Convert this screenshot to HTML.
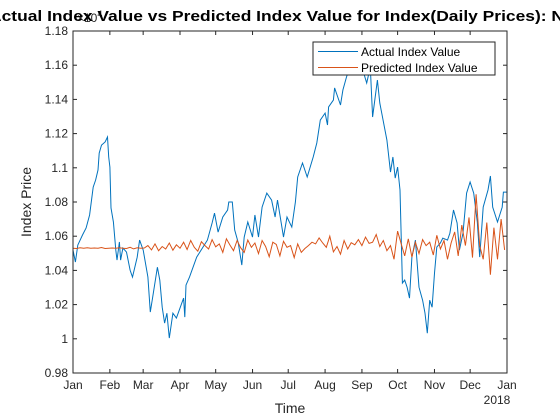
<!DOCTYPE html>
<html><head><meta charset="utf-8"><style>
body{margin:0;background:#fff}
svg{display:block;font-family:"Liberation Sans",sans-serif}
</style></head><body>
<svg id="chart" width="560" height="420" viewBox="0 0 560 420"></svg>
<script>
const monthLabels=["Jan","Feb","Mar","Apr","May","Jun","Jul","Aug","Sep","Oct","Nov","Dec","Jan"];
const monthDays=[0,31,59,90,120,151,181,212,243,273,304,334,365];
const yTicks=[0.98,1,1.02,1.04,1.06,1.08,1.1,1.12,1.14,1.16,1.18];
const yTickLabels=["0.98","1","1.02","1.04","1.06","1.08","1.1","1.12","1.14","1.16","1.18"];
const actualDays=[0,2,4,8,11,14,17,19,21,22,24,27,29,30,31,32,34,36,37,39,40,42,45,48,50,54,56,59,63,65,67,71,73,75,77,79,81,84,87,93,94,95,98,104,113,117,119,122,126,130,131,134,136,139,142,144,147,151,153,156,159,163,167,170,172,177,180,184,187,189,193,197,202,205,208,212,214,215,219,220,225,227,230,235,239,243,247,250,252,256,258,264,267,269,271,273,275,277,279,281,283,285,288,291,294,296,298,300,302,304,306,309,311,315,317,320,323,325,328,331,334,337,340,342,345,349,351,353,357,361,362,365];
const actualValues=[1.0519,1.0449,1.0548,1.0607,1.0648,1.0724,1.0887,1.0928,1.0987,1.1086,1.1133,1.1151,1.118,1.1063,1.1004,1.0765,1.0683,1.0519,1.046,1.0566,1.046,1.0531,1.0507,1.0402,1.0361,1.0478,1.0577,1.0519,1.0361,1.0156,1.0244,1.0419,1.0343,1.0185,1.0092,1.015,1.0004,1.015,1.0121,1.0238,1.0127,1.0314,1.0361,1.0478,1.0577,1.0677,1.0735,1.0624,1.0712,1.0753,1.08,1.08,1.0636,1.056,1.0431,1.0595,1.0683,1.0595,1.0724,1.0595,1.077,1.0852,1.0811,1.0712,1.0811,1.0595,1.0712,1.0653,1.08,1.0946,1.1028,1.0946,1.1063,1.1145,1.1279,1.132,1.125,1.1356,1.1396,1.1467,1.1367,1.1455,1.1531,1.163,1.173,1.1589,1.1496,1.1589,1.1297,1.1513,1.1379,1.1162,1.0975,1.1063,1.094,1.1004,1.087,1.0326,1.0343,1.0302,1.0238,1.0478,1.0577,1.0302,1.0226,1.015,1.0033,1.0226,1.0185,1.0384,1.0536,1.056,1.0589,1.0577,1.0618,1.0753,1.0677,1.0519,1.0618,1.0852,1.0917,1.0852,1.0683,1.0478,1.077,1.087,1.0952,1.077,1.0683,1.077,1.0858,1.0858];
const predictedValues=[1.053,1.0528,1.0532,1.053,1.0533,1.0529,1.0531,1.053,1.0534,1.0528,1.053,1.0531,1.0529,1.0533,1.053,1.0528,1.0535,1.0526,1.0532,1.0529,1.0531,
1.0545,1.052,1.0555,1.0515,1.054,1.0525,1.056,1.0518,1.055,1.053,
1.0565,1.0522,1.0575,1.0535,1.0512,1.0568,1.0545,1.0525,1.058,1.0538,1.0555,1.0505,1.0585,1.0548,1.0515,1.0575,1.0532,1.0505,1.0578,1.0535,
1.056,1.0498,1.0575,1.054,1.048,1.0565,1.0552,1.0485,1.057,1.0535,1.0545,1.0475,1.0555,1.0505,1.0528,1.0545,1.0565,1.0555,1.059,1.056,1.0535,1.06,1.0508,1.054,1.0495,1.0575,1.0525,1.0562,1.055,1.058,1.0545,1.0595,1.0558,1.0565,1.061,1.054,1.0575,1.0515,1.0545,1.0465,
1.063,1.0555,1.0485,1.0585,1.0478,1.0565,1.0498,1.058,1.0545,1.0565,
1.049,1.0605,1.0525,1.0575,1.0465,1.056,1.0625,1.0485,1.0665,1.0545,1.071,1.0475,1.0845,1.0545,1.0465,1.068,1.0375,1.065,1.0465,1.07,1.052];
const predictedStep=3;

const NS="http://www.w3.org/2000/svg";
const svg=document.getElementById('chart');
const L=73,R=507,T=31,B=373;
const xS=d=>L+(d/365)*(R-L);
const yS=v=>B-(v-0.98)/0.2*(B-T);
function mk(tag,attrs,parent){const e=document.createElementNS(NS,tag);for(const k in attrs)e.setAttribute(k,attrs[k]);(parent||svg).appendChild(e);return e;}

const plot=mk('g',{});


mk('rect',{x:L,y:T,width:R-L,height:B-T,fill:'#fff'},plot);

const clip=mk('clipPath',{id:'clip'});
mk('rect',{x:L,y:T,width:R-L,height:B-T},clip);

// actual line
let d='';actualDays.forEach((day,i)=>{d+=(i?'L':'M')+xS(day).toFixed(1)+','+yS(actualValues[i]).toFixed(1);});
const la=mk('path',{d:d,fill:'none',stroke:'#0072BD','stroke-width':1,'clip-path':'url(#clip)'});


// predicted line
d='';predictedValues.forEach((v,i)=>{d+=(i?'L':'M')+xS(i*predictedStep).toFixed(1)+','+yS(v).toFixed(1);});
const lp=mk('path',{d:d,fill:'none',stroke:'#D95319','stroke-width':1,'clip-path':'url(#clip)'});



// axes box
const box=mk('rect',{x:L,y:T,width:R-L,height:B-T,fill:'none',stroke:'#262626','stroke-width':1});



// x ticks
monthDays.forEach((md,i)=>{
  const x=xS(md);
  mk('line',{x1:x,y1:B,x2:x,y2:B-4,stroke:'#262626'});
  mk('line',{x1:x,y1:T,x2:x,y2:T+4,stroke:'#262626'});
  const t=mk('text',{x:x,y:B+16,'font-size':12,'text-anchor':'middle',fill:'#262626'});
  t.textContent=monthLabels[i];
  
  
});
// y ticks
yTicks.forEach((v,i)=>{
  const y=yS(v);
  mk('line',{x1:L,y1:y,x2:L+4,y2:y,stroke:'#262626'});
  mk('line',{x1:R,y1:y,x2:R-4,y2:y,stroke:'#262626'});
  const t=mk('text',{x:L-5,y:y+4,'font-size':12,'text-anchor':'end',fill:'#262626'});
  t.textContent=yTickLabels[i];
  
  
});
</script>
<svg style="position:absolute;left:0;top:0" width="560" height="420">
<text x="77" y="22" font-size="12" fill="#262626" font-family="Liberation Sans,sans-serif">×10<tspan font-size="9" dy="-5">4</tspan></text>
<text x="-11" y="21" font-size="14.5" font-weight="bold" fill="#000" font-family="Liberation Sans,sans-serif" textLength="575" lengthAdjust="spacingAndGlyphs">Actual Index Value vs Predicted Index Value for Index(Daily Prices): N</text>
<text x="290" y="413" font-size="14" fill="#262626" text-anchor="middle" font-family="Liberation Sans,sans-serif">Time</text>
<text x="497" y="404" font-size="12" fill="#262626" text-anchor="middle" font-family="Liberation Sans,sans-serif">2018</text>
<text transform="translate(31,202) rotate(-90)" font-size="14" fill="#262626" text-anchor="middle" font-family="Liberation Sans,sans-serif">Index Price</text>
<g>
<rect x="313" y="42" width="182" height="33" fill="#fff" stroke="#262626" stroke-width="1"/>
<line x1="318" y1="51.5" x2="358" y2="51.5" stroke="#0072BD"/>
<text x="361" y="56" font-size="12" fill="#000" font-family="Liberation Sans,sans-serif">Actual Index Value</text>
<line x1="318" y1="67.5" x2="358" y2="67.5" stroke="#D95319"/>
<text x="361" y="72" font-size="12" fill="#000" font-family="Liberation Sans,sans-serif">Predicted Index Value</text>
</g>
</svg>
</body></html>
